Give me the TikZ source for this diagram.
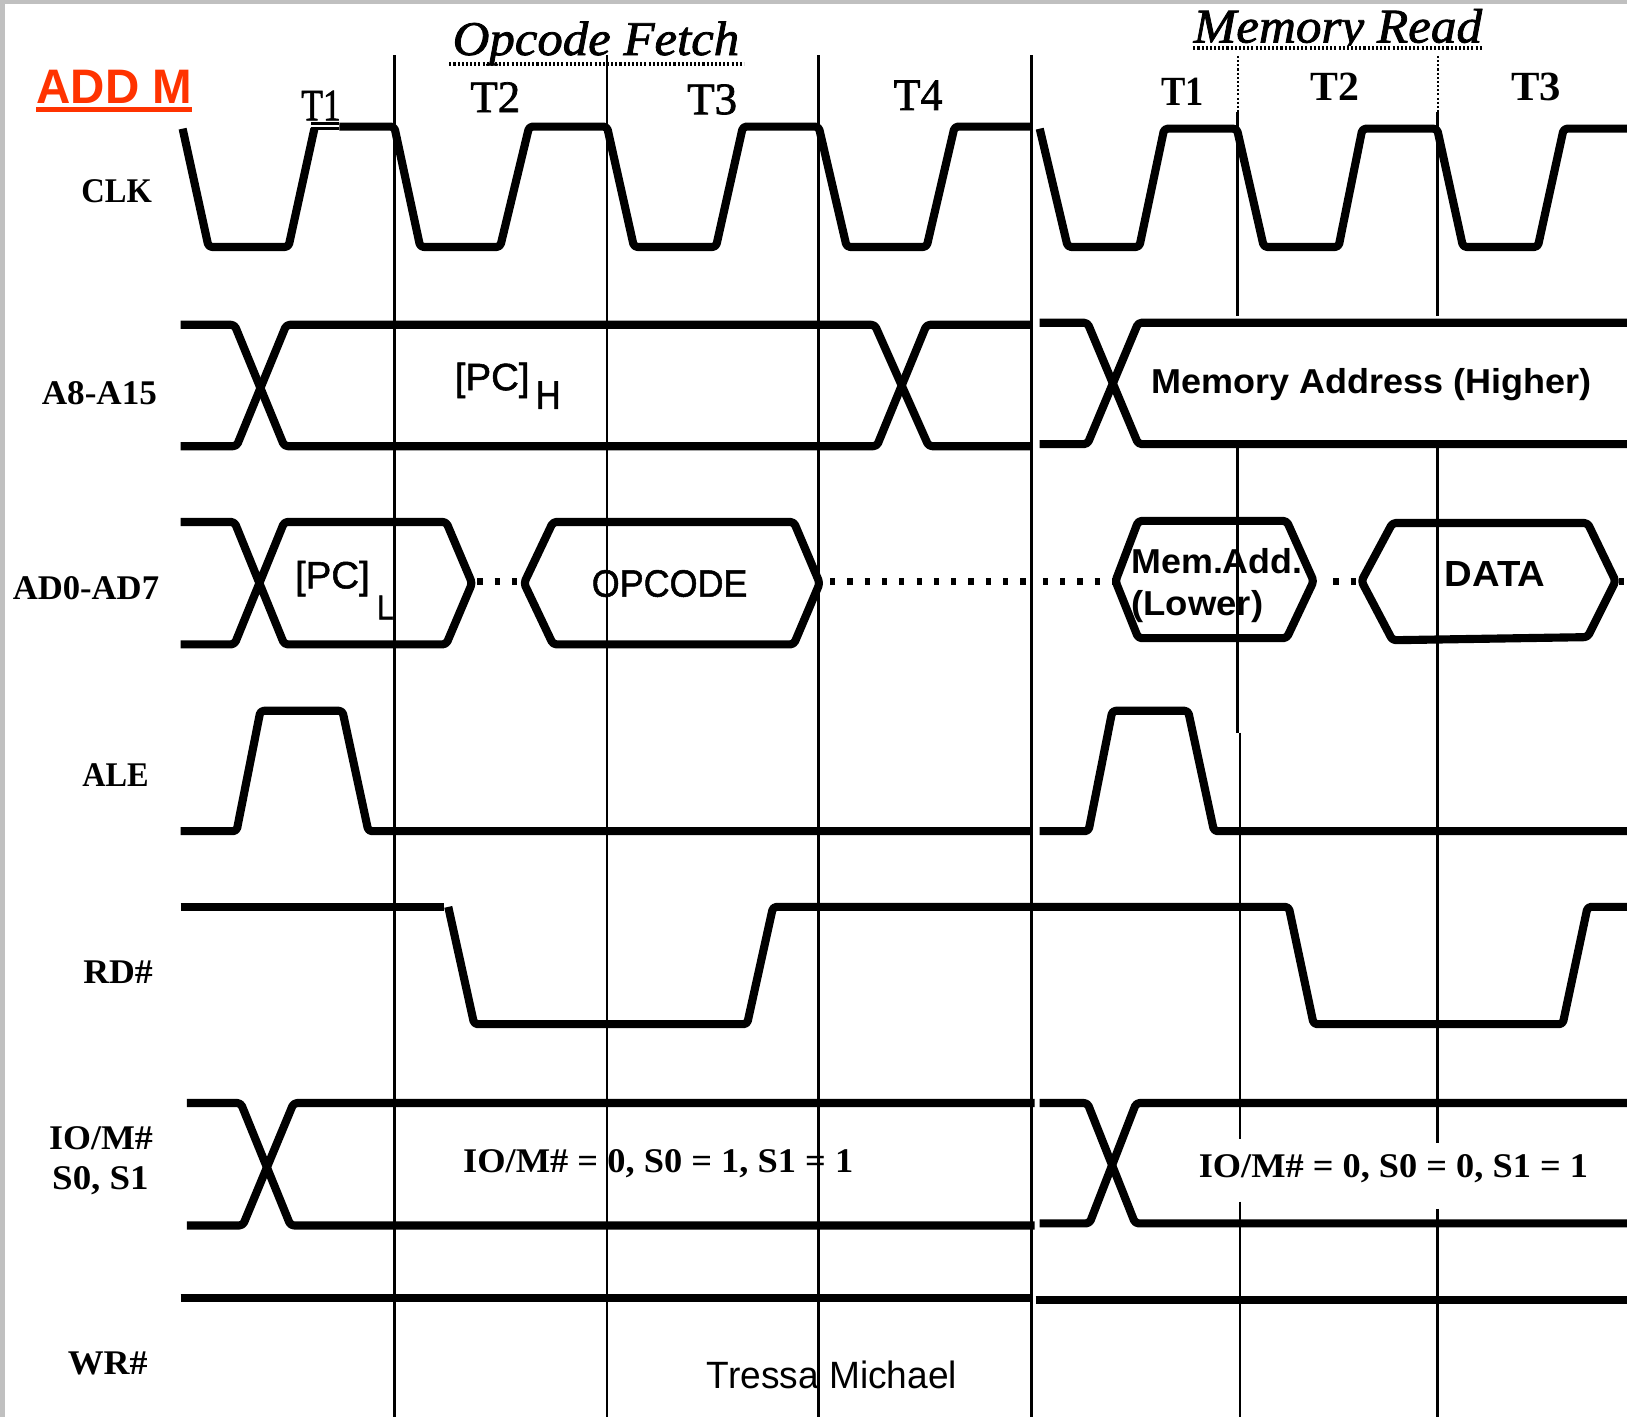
\documentclass[tikz,border=0pt]{standalone}
\usepackage{fontspec}
\usepackage{graphicx}
\setmainfont{Liberation Serif}
\setsansfont{Liberation Sans}
\newfontfamily\heavyserif{Liberation Serif}[FakeBold=1.6]
\newfontfamily\heavyital{Liberation Serif Italic}[FakeBold=1.6]
\newfontfamily\heavysans{Liberation Sans}[FakeBold=1.4]
\usetikzlibrary{calc}
\definecolor{addred}{HTML}{FF3300}
\definecolor{rim}{HTML}{C0C0C0}
\newdimen\pxu \pxu=0.6pt
\newcommand\lab[7][black]{\node[anchor=base west,inner sep=0pt,text=#1] (#2) at (#3,#5) {\resizebox{#4\pxu}{\height}{#6{}#7}};}
\newcommand\fs[1]{\fontsize{#1}{#1}\selectfont}
\tikzset{
  sig/.style={line width=4.7pt,line join=round,line cap=butt,rounded corners=2pt,black},
  grid/.style={line width=1.4pt,black},
  gridcut/.style={line width=1.2pt,black,dash pattern=on 1.2pt off 1.2pt},
  dots/.style={line width=4pt,black,dash pattern=on 3pt off 7pt},
  under/.style={line width=2.4pt,black,dash pattern=on 1.2pt off 1.2pt},
  thinclk/.style={line width=1.8pt,black},
}
\begin{document}
\begin{tikzpicture}[x=0.6pt,y=-0.6pt]
\useasboundingbox (0,0) rectangle (1568,1366);
\fill[white] (0,0) rectangle (1568,1366);
\fill[rim] (0,0) rectangle (1568,4);
\fill[rim] (0,0) rectangle (5,1366);
% CLK
\draw[sig] (176,124)--(201,238)--(278,238)--(303,124);
\draw[thinclk] (300,124)--(327,124);
\draw[thinclk] (300,119)--(327,119);
\draw[sig] (327,122)--(380,122)--(405,238)--(482,238)--(510,122)--(585,122)--(611,238)--(690,238)--(716,122)--(789,122)--(816,238)--(893,238)--(920,122)--(994,122);
\draw[sig] (1002,124)--(1029,238)--(1098,238)--(1122,124)--(1192,124)--(1218,238)--(1290,238)--(1313,124)--(1385,124)--(1410,238)--(1482,238)--(1507,124)--(1568,124);
% A8-A15
\draw[sig] (174,313)--(226,313)--(274,430)--(845,430)--(893,313)--(994,313);
\draw[sig] (174,430)--(228,430)--(276,313)--(843,313)--(895,430)--(994,430);
\draw[sig] (1002,311)--(1048,311)--(1097,428)--(1568,428);
\draw[sig] (1002,428)--(1048,428)--(1097,311)--(1568,311);
% AD0-AD7
\draw[sig] (174,503)--(226,503)--(274,621)--(430,621)--(455,562)--(430,503)--(274,503)--(226,621)--(174,621);
\draw[sig] (505,562)--(533,503)--(765,503)--(790,562)--(765,621)--(533,621)--cycle;
\draw[sig] (1075,560)--(1097,502)--(1240,502)--(1266,560)--(1240,615)--(1097,615)--cycle;
\draw[sig] (1312,560)--(1342,504)--(1530,504)--(1557,560)--(1530,614)--(1342,617)--cycle;
\draw[dots] (460,560)--(500,560);
\draw[dots] (800,560)--(992,560);
\draw[dots] (1005,560)--(1072,560);
\draw[dots] (1285,560)--(1308,560);
\draw[dots] (1560,560)--(1568,560);
% ALE
\draw[sig] (174,801)--(228,801)--(251,685)--(330,685)--(355,801)--(994,801);
\draw[sig] (1002,801)--(1049,801)--(1072,685)--(1145,685)--(1170,801)--(1568,801);
% RD#
\draw[sig] (174,874)--(428,874);
\draw[sig] (432,874)--(457,987)--(720,987)--(745,874)--(1242,874)--(1266,987)--(1506,987)--(1530,874)--(1568,874);
% IO/M#
\draw[sig] (180,1063)--(232,1063)--(280,1181)--(997,1181);
\draw[sig] (180,1181)--(234,1181)--(283,1063)--(997,1063);
\draw[sig] (1002,1063)--(1048,1063)--(1094,1179)--(1568,1179);
\draw[sig] (1002,1179)--(1050,1179)--(1095,1063)--(1568,1063);
% WR#
\draw[sig] (174,1251)--(996,1251);
\draw[sig] (998,1253)--(1568,1253);
% time grid
\draw[grid] (380,53)--(380,1366);
\draw[grid] (585,53)--(585,1366);
\draw[grid] (789,53)--(789,1366);
\draw[grid] (994,53)--(994,1366);
\draw[gridcut] (1192.8,50)--(1192.8,108);
\draw[grid] (1192.8,108)--(1192.8,305);
\draw[grid] (1192.8,432)--(1192.8,706);
\draw[grid] (1195,706)--(1195,1098);
\draw[grid] (1195,1158)--(1195,1366);
\draw[gridcut] (1385.5,50)--(1385.5,108);
\draw[grid] (1385.5,108)--(1385.5,305);
\draw[grid] (1385.5,432)--(1385.5,1102);
\draw[grid] (1385.5,1165)--(1385.5,1366);
% labels
\lab[addred]{title}{35}{150}{100}{\sffamily\bfseries\fs{28}}{ADD M}
\lab{opfetch}{436}{276}{53}{\heavyital\fs{28}}{Opcode Fetch}
\lab{memread}{1150}{278}{41}{\heavyital\fs{28}}{Memory Read}
\fill[white] (1150,44) rectangle (1428,54);
\draw[under] (433,62)--(717,62);
\draw[under] (1150,46)--(1428,46);
\fill[addred] (35,103.5) rectangle (185,108);
\lab{ta}{290}{38}{116}{\heavyserif\fs{26}}{T1}
\lab{tb}{453}{48}{108}{\heavyserif\fs{26}}{T2}
\lab{tc}{662}{48}{110}{\heavyserif\fs{26}}{T3}
\lab{td}{861}{47}{106}{\heavyserif\fs{26}}{T4}
\lab{te}{1119}{41}{102}{\bfseries\fs{24}}{T1}
\lab{tf}{1263}{47}{97}{\bfseries\fs{24}}{T2}
\lab{tg}{1456}{48}{97}{\bfseries\fs{24}}{T3}
\lab{clk}{78}{68}{195}{\bfseries\fs{20}}{CLK}
\lab{aa}{40}{111}{390}{\bfseries\fs{20}}{A8-A15}
\lab{ad}{12}{141}{578}{\bfseries\fs{20}}{AD0-AD7}
\lab{ale}{79}{64}{758}{\bfseries\fs{20}}{ALE}
\lab{rd}{80}{67}{948}{\bfseries\fs{20}}{RD\#}
\lab{iom}{47}{100}{1108}{\bfseries\fs{20}}{IO/M\#}
\lab{ss}{50}{93}{1146}{\bfseries\fs{20}}{S0, S1}
\lab{wr}{65}{77}{1325}{\bfseries\fs{20}}{WR\#}
\lab{pch}{438}{72}{376}{\heavysans\fs{22}}{[PC]}
\lab{pchs}{516}{24}{394}{\heavysans\fs{23}}{H}
\lab{maddr}{1109}{424}{379}{\sffamily\bfseries\fs{20}}{Memory Address (Higher)}
\lab{pcl}{284}{72}{567}{\heavysans\fs{22}}{[PC]}
\lab{pcls}{363}{16}{597}{\heavysans\fs{20}}{L}
\lab{opc}{570}{150}{575}{\heavysans\fs{22}}{OPCODE}
\lab{mema}{1090}{165}{553}{\sffamily\bfseries\fs{20}}{Mem.Add.}
\lab{memb}{1090}{127}{593}{\sffamily\bfseries\fs{20}}{(Lower)}
\lab{data}{1392}{97}{565}{\sffamily\bfseries\fs{21}}{DATA}
\lab{ioa}{446}{376}{1130}{\bfseries\fs{20}}{IO/M\# = 0, S0 = 1, S1 = 1}
\lab{iob}{1155}{375}{1135}{\bfseries\fs{20}}{IO/M\# = 0, S0 = 0, S1 = 1}
\lab{auth}{681}{241}{1338}{\sffamily\fs{22}}{Tressa Michael}
\end{tikzpicture}
\end{document}
